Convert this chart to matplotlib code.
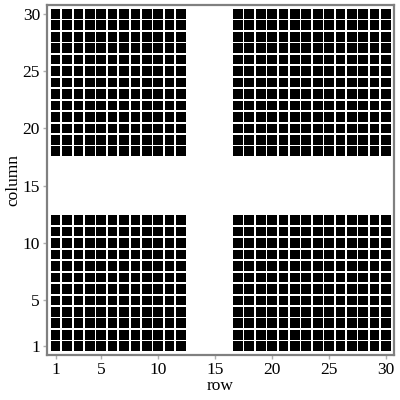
import numpy as np
import matplotlib
matplotlib.use("Agg")
import matplotlib.pyplot as plt
from matplotlib.patches import Rectangle
from matplotlib.collections import PatchCollection

# grid coordinates and the empty bands
rows = list(range(1, 31))
columns = list(range(1, 31))
empty_rows = [13, 14, 15, 16]
empty_columns = [13, 14, 15, 16, 17]
ticks = [1, 5, 10, 15, 20, 25, 30]

plt.rcParams['font.family'] = ['Liberation Serif', 'DejaVu Serif']

fig = plt.figure(figsize=(4, 4), dpi=100)
ax = fig.add_axes([0.1175, 0.1125, 0.8675, 0.875])

# one black square per filled cell, leaving a thin white gap around it
size = 0.85
cells = []
for r in rows:
    if r in empty_rows:
        continue
    for c in columns:
        if c in empty_columns:
            continue
        cells.append(Rectangle((r - size / 2, c - size / 2), size, size))
ax.add_collection(PatchCollection(cells, facecolor='black', edgecolor='none', antialiased=False))

ax.set_xlim(0.24, 30.7)
ax.set_ylim(0.24, 30.76)
ax.set_xticks(ticks)
ax.set_yticks(ticks)
ax.set_xlabel('row', fontsize=12.5, labelpad=0)
ax.set_ylabel('column', fontsize=12.5, labelpad=1)

for s in ax.spines.values():
    s.set_color('#808080')
    s.set_linewidth(1.6)
ax.tick_params(colors='#b0b0b0', labelcolor='black', length=3, width=1, labelsize=12.5, pad=2)

fig.savefig('out.png', dpi=100)
